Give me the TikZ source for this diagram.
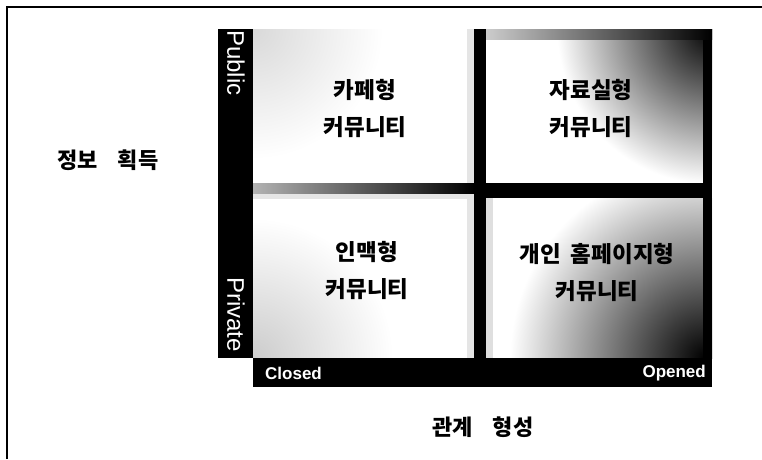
\documentclass[tikz,border=0pt]{standalone}
\usepackage{fontspec}
\setmainfont{Liberation Sans}
\newfontfamily\kr{Noto Sans CJK KR}
\begin{document}
\begin{tikzpicture}[x=1pt,y=-1pt,
  qtext/.style={font=\kr\bfseries\fontsize{22.5}{37}\selectfont, align=center, inner sep=0pt},
  axlab/.style={font=\kr\bfseries\fontsize{22}{24}\selectfont, inner sep=0pt},
  sidetext/.style={text=white, font=\fontsize{24}{28}\selectfont, inner sep=0pt, rotate=-90},
  bartext/.style={text=white, font=\bfseries\fontsize{17}{20}\selectfont, inner sep=0pt},
  bar/.style={fill=black}]
\useasboundingbox (0,0) rectangle (762,459);
\fill[white] (0,0) rectangle (762,459);
\draw[line width=2.5pt] (7,459) -- (7,7) -- (762,7);

% quadrant backgrounds
\begin{scope}
  \clip (253,29) rectangle (474,183);
  \shade[inner color=gray!30, outer color=white] (253,29) circle (130);
\end{scope}
\begin{scope}
  \clip (486,29) rectangle (712,183);
  \shade[inner color=black, outer color=white] (712,29) circle (155);
\end{scope}
\begin{scope}
  \clip (253,193) rectangle (474,358);
  \shade[inner color=gray!40, outer color=white] (253,358) circle (140);
\end{scope}
\begin{scope}
  \clip (486,198) rectangle (712,358);
  \shade[inner color=black, outer color=white] (705,358) circle (195);
\end{scope}

% stippled edges
\fill[gray!20] (467,29) rectangle (474,183);
\fill[gray!20] (253,193) rectangle (474,199);
\fill[gray!20] (467,199) rectangle (474,358);
\fill[gray!25] (486,198) rectangle (493,358);

% dividers and borders
\fill[bar] (474,29) rectangle (486,358);
\fill[bar] (486,183) rectangle (712,198);
\shade[left color=gray!60, right color=black] (253,183) rectangle (474,193);
\fill[bar] (703,29) rectangle (712,358);
\shade[left color=gray!40, right color=black] (486,29) rectangle (712,39);
\fill[bar] (218,29) rectangle (253,358);
\fill[bar] (253,358) rectangle (712,387);

% texts
\node[qtext] (q1) at (365,108) {카페형\\커뮤니티};
\node[qtext] (q2) at (591,108) {자료실형\\커뮤니티};
\node[qtext] (q3) at (367,270) {인맥형\\커뮤니티};
\node[qtext] (q4) at (597,272) {개인\hspace{0.45em}홈페이지형\\커뮤니티};

\node[axlab] (yl) at (108,160) {정보\hspace{0.9em}획득};
\node[axlab] (xl) at (483,427) {관계\hspace{0.9em}형성};

\node[sidetext, anchor=west] (pub) at (236,30) {Public};
\node[sidetext, anchor=east] (priv) at (236,352) {Private};
\node[bartext, anchor=west] (cl) at (265,373) {Closed};
\node[bartext, anchor=east] (op) at (706,373) {Opened};
\end{tikzpicture}
\end{document}
